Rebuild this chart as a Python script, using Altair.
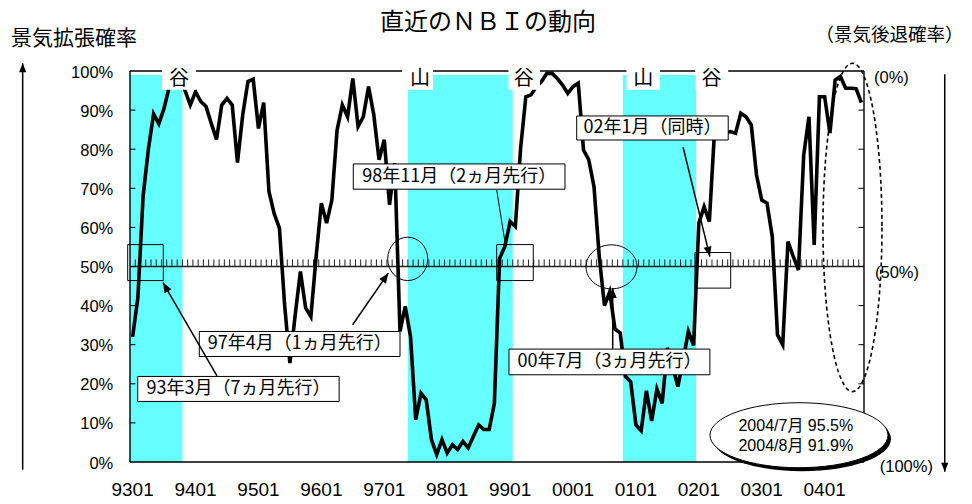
import math
import altair as alt
import pandas as pd

# ---------------- data ----------------
# NBI monthly values, 1993/01 .. 2004/08 (percent)
nbi = [32, 42, 68, 80, 89, 86.5, 90.5, 96, 99, 99, 95, 91.3,
       94.7, 92.2, 90.9, 86.6, 82.5, 91.3, 93.0, 91.3, 76.6, 88.8, 97.3, 97.9,
       85.3, 91.9, 69.2, 63.5, 59.8, 40, 25.3, 37.5, 48.7, 39.4, 37.2, 52.5,
       66.2, 61.1, 67.0, 84.9, 91.3, 88.3, 98.1, 85.8, 88.3, 96.0, 88.8, 77.3,
       82.4, 65.8, 76.4, 33.4, 39.8, 32.1, 10.8, 17.6, 15.9, 5.7, 1.9, 5.7,
       2.3, 4.4, 3.2, 5.3, 3.6, 6.6, 9.5, 8.3, 8.3, 15.0, 52.1, 55.1,
       61.5, 60.2, 80.2, 93.4, 93.9, 96.0, 97.3, 99.4, 99.4, 98.1, 96.4, 94.3,
       96.0, 96.9, 79.8, 77.3, 70.4, 52.6, 40.0, 43.5, 34.0, 33.0, 21.9, 20.5,
       9.5, 8.0, 18.2, 10.5, 18.7, 15.0, 29.2, 24.5, 19.3, 26.1, 33.4, 29.8,
       61.1, 65.3, 61.5, 84.9, 84.5, 84.1, 84.5, 84.1, 89.2, 88.3, 86.2, 73.4,
       67.0, 66.2, 57.7, 32.5, 30.0, 56.4, 52.6, 49.1, 78.5, 88.3, 55.5, 93.4,
       93.4, 84.1, 97.7, 98.6, 95.6, 95.6, 95.5, 91.9]

x_tick_labels = ["9301", "9401", "9501", "9601", "9701", "9801",
                 "9901", "0001", "0101", "0201", "0301", "0401"]
y_tick_values = [0, 10, 20, 30, 40, 50, 60, 70, 80, 90, 100]

# recession periods (month-index boundaries)
recess_start = [0, 53, 94]
recess_end = [10, 73, 108]

# business-cycle turning point labels
turn_text = ["谷", "山", "谷", "山", "谷"]
turn_center = [9.35, 55.3, 75.1, 97.9, 110.9]
turn_left = [6.1, 51.9, 72.2, 94.7, 107.8]
turn_right = [12.6, 57.8, 78.2, 101.1, 114.1]

# annotation boxes
box_text = ["93年3月（7ヵ月先行）", "97年4月（1ヵ月先行）", "98年11月（2ヵ月先行）",
            "00年7月（3ヵ月先行）", "02年1月（同時）"]
box_x0 = [1.47, 13.22, 42.59, 72.29, 85.2]
box_x1 = [39.89, 51.5, 82.97, 110.6, 114.1]
box_y0 = [15.49, 26.99, 69.77, 22.31, 82.35]
box_y1 = [21.88, 33.38, 76.23, 28.88, 88.5]

# small target rectangles
trg_x0 = [-0.44, 69.94, 107.76]
trg_x1 = [6.35, 76.92, 114.57]
trg_y0 = [46.4, 46.4, 44.47]
trg_y1 = [55.6, 55.6, 53.57]

# arrows (start -> tip)
arr_x0 = [16.59, 42.46, 92.07, 105.5, -20.47, 155.4]
arr_y0 = [22.05, 35.1, 28.95, 80.5, -2.0, 99.2]
arr_x1 = [6.29, 49.27, 92.07, 110.6, -20.47, 155.4]
arr_y1 = [45.9, 48.3, 44.47, 52.54, 102.0, -2.5]
arr_len = [10, 10, 10, 10, 9, 9]

# ---------------- geometry ----------------
NM = 140
W, H = 734, 391
PXM = W / NM
PXV = H / 100.0
CYAN = "#66FFFF"
JP = "Noto Sans CJK JP"
LAT = "Liberation Sans, Noto Sans CJK JP"

xs = alt.Scale(domain=[0, NM], nice=False, zero=False)
ys = alt.Scale(domain=[0, 100], nice=False, zero=False)


def X(f):
    return alt.X(f, type="quantitative", scale=xs, axis=None)


def Y(f):
    return alt.Y(f, type="quantitative", scale=ys, axis=None)


def ellipse_path(rx, ry):
    m = max(rx, ry)
    a, b = rx / m, ry / m
    k = 0.5523
    f = lambda v: f"{v:.4f}"
    return (f"M{f(a)},0 C{f(a)},{f(k*b)} {f(k*a)},{f(b)} 0,{f(b)} "
            f"C{f(-k*a)},{f(b)} {f(-a)},{f(k*b)} {f(-a)},0 "
            f"C{f(-a)},{f(-k*b)} {f(-k*a)},{f(-b)} 0,{f(-b)} "
            f"C{f(k*a)},{f(-b)} {f(a)},{f(-k*b)} {f(a)},0 Z")


def ellipse_size(rx, ry):
    return (2 * max(rx, ry)) ** 2


layers = []

# recession shading
recess = pd.DataFrame({"x0": recess_start, "x1": recess_end, "y0": 0, "y1": 99})
layers.append(alt.Chart(recess).mark_rect(color=CYAN).encode(
    x=X("x0"), x2="x1", y=Y("y0"), y2="y1"))

# 50% line with monthly ticks
mid = pd.DataFrame({"x0": [0], "x1": [NM], "y": [50]})
layers.append(alt.Chart(mid).mark_rule(color="#222", strokeWidth=1.6).encode(
    x=X("x0"), x2="x1", y=Y("y")))
mt = pd.DataFrame({"x": list(range(1, NM)), "y0": 50, "y1": 51.8})
layers.append(alt.Chart(mt).mark_rule(color="#222", strokeWidth=1).encode(
    x=X("x"), y=Y("y0"), y2="y1"))

# frame
frame = pd.DataFrame({"x0": [0, 0, 0, NM], "x1": [NM, NM, 0, NM],
                      "y0": [0, 100, 0, 0], "y1": [0, 100, 100, 100]})
layers.append(alt.Chart(frame).mark_rule(color="black", strokeWidth=1.4).encode(
    x=X("x0"), x2="x1", y=Y("y0"), y2="y1"))
ticks_l = pd.DataFrame({"x0": 0, "x1": 1.05, "y": y_tick_values[1:-1]})
ticks_r = pd.DataFrame({"x0": NM - 1.05, "x1": NM, "y": y_tick_values[1:-1]})
for t in (ticks_l, ticks_r):
    layers.append(alt.Chart(t).mark_rule(color="black", strokeWidth=1).encode(
        x=X("x0"), x2="x1", y=Y("y")))

# data line
line_df = pd.DataFrame({"m": [i + 0.5 for i in range(len(nbi))], "v": nbi})
layers.append(alt.Chart(line_df).mark_line(color="black", strokeWidth=3.6).encode(
    x=X("m"), y=Y("v")))

# turning point labels
turn_box = pd.DataFrame({"x0": turn_left, "x1": turn_right, "y0": 95.2, "y1": 100.4})
layers.append(alt.Chart(turn_box).mark_rect(color="white").encode(
    x=X("x0"), x2="x1", y=Y("y0"), y2="y1"))
turn_df = pd.DataFrame({"x": turn_center, "y": 98.0, "t": turn_text})
layers.append(alt.Chart(turn_df).mark_text(font=JP, fontSize=20, color="black",
                                           align="center", baseline="middle").encode(
    x=X("x"), y=Y("y"), text="t"))

# target rectangles
trg = pd.DataFrame({"x0": trg_x0, "x1": trg_x1, "y0": trg_y0, "y1": trg_y1})
layers.append(alt.Chart(trg).mark_rect(fillOpacity=0, stroke="black", strokeWidth=1).encode(
    x=X("x0"), x2="x1", y=Y("y0"), y2="y1"))

# circles around crossings
for cx, cy, rx, ry in [(52.97, 51.95, 20, 21.7), (91.84, 49.91, 25.5, 22)]:
    d = pd.DataFrame({"x": [cx], "y": [cy]})
    layers.append(alt.Chart(d).mark_point(shape=ellipse_path(rx, ry), size=ellipse_size(rx, ry),
                                          filled=False, color="black", strokeWidth=1,
                                          opacity=1).encode(x=X("x"), y=Y("y")))

# dashed ellipse around recent values
d = pd.DataFrame({"x": [137.8], "y": [60.0]})
layers.append(alt.Chart(d).mark_point(shape=ellipse_path(29.5, 164.2), size=ellipse_size(29.5, 164.2),
                                      filled=False, color="black", strokeWidth=1.6,
                                      strokeDash=[4, 3], opacity=1).encode(x=X("x"), y=Y("y")))

# 98/11 connector line
conn = pd.DataFrame({"x0": [69.94], "y0": [69.59], "x1": [71.66], "y1": [55.1]})
layers.append(alt.Chart(conn).mark_rule(color="black", strokeWidth=1).encode(
    x=X("x0"), x2="x1", y=Y("y0"), y2="y1"))

# annotation boxes
boxes = pd.DataFrame({"x0": box_x0, "x1": box_x1, "y0": box_y0, "y1": box_y1, "t": box_text})
boxes["cx"] = (boxes.x0 + boxes.x1) / 2
boxes["cy"] = (boxes.y0 + boxes.y1) / 2
layers.append(alt.Chart(boxes).mark_rect(fill="white", stroke="black", strokeWidth=1).encode(
    x=X("x0"), x2="x1", y=Y("y0"), y2="y1"))
layers.append(alt.Chart(boxes).mark_text(font=JP, fontSize=18, color="black",
                                         align="center", baseline="middle").encode(
    x=X("cx"), y=Y("cy"), text="t"))

# arrows
ang = []
for a0, b0, a1, b1 in zip(arr_x0, arr_y0, arr_x1, arr_y1):
    dxp = (a1 - a0) * PXM
    dyp = -(b1 - b0) * PXV
    ang.append(math.degrees(math.atan2(dxp, -dyp)) % 360)
arrows = pd.DataFrame({"x0": arr_x0, "y0": arr_y0, "x1": arr_x1, "y1": arr_y1,
                       "ang": ang, "len": arr_len})
layers.append(alt.Chart(arrows).mark_rule(color="black", strokeWidth=1.5).encode(
    x=X("x0"), x2="x1", y=Y("y0"), y2="y1"))
for L in sorted(set(arr_len)):
    sub = arrows[arrows["len"] == L]
    layers.append(alt.Chart(sub).mark_point(shape="M0,0L0.4,1L-0.4,1Z", size=(2 * L) ** 2,
                                            filled=True, color="black", opacity=1).encode(
        x=X("x1"), y=Y("y1"), angle=alt.Angle("ang:Q", scale=None)))

# value ellipse with shadow
ed = pd.DataFrame({"x": [127.6], "y": [6.85]})
layers.append(alt.Chart(ed).mark_point(shape=ellipse_path(89, 32.5), size=ellipse_size(89, 32.5),
                                       filled=True, color="black", opacity=1,
                                       xOffset=3, yOffset=3.5).encode(x=X("x"), y=Y("y")))
layers.append(alt.Chart(ed).mark_point(shape=ellipse_path(89, 32.5), size=ellipse_size(89, 32.5),
                                       filled=True, fill="white", stroke="black", strokeWidth=1,
                                       opacity=1).encode(x=X("x"), y=Y("y")))
vt = pd.DataFrame({"x": [127.0, 127.0], "y": [9.1, 3.99],
                   "t": [f"2004/7月 {nbi[138]}%", f"2004/8月 {nbi[139]}%"]})
layers.append(alt.Chart(vt).mark_text(font=LAT, fontSize=16, color="black",
                                      align="center", baseline="middle").encode(
    x=X("x"), y=Y("y"), text="t"))

# left axis labels
yl = pd.DataFrame({"x": -3.19, "y": [v - 0.4 for v in y_tick_values],
                   "t": [f"{v}%" for v in y_tick_values]})
layers.append(alt.Chart(yl).mark_text(font=LAT, fontSize=16.5, color="black",
                                      align="right", baseline="middle").encode(
    x=X("x"), y=Y("y"), text="t"))

# right axis labels
rl = pd.DataFrame({"x": [141.9, 142.1, 143.0], "y": [98.3, 48.4, -1.2],
                   "t": ["(0%)", "(50%)", "(100%)"]})
layers.append(alt.Chart(rl).mark_text(font=LAT, fontSize=16.5, color="black",
                                      align="left", baseline="middle").encode(
    x=X("x"), y=Y("y"), text="t"))

# x axis labels
xl = pd.DataFrame({"x": [12 * i + 0.5 for i in range(len(x_tick_labels))], "y": -8.8,
                   "t": x_tick_labels})
layers.append(alt.Chart(xl).mark_text(font=LAT, fontSize=19, color="black",
                                      align="center", baseline="alphabetic").encode(
    x=X("x"), y=Y("y"), text="t"))

# titles
tt = pd.DataFrame({"x": [68.3, -10.68, 144.86], "y": [112.3, 108.2, 109.3],
                   "t": ["直近のＮＢＩの動向", "景気拡張確率", "（景気後退確率）"],
                   "s": [24, 21, 18.5]})
layers.append(alt.Chart(tt).mark_text(font=JP, color="black", align="center",
                                      baseline="middle").encode(
    x=X("x"), y=Y("y"), text="t", size=alt.Size("s:Q", scale=None)))

chart = alt.layer(*layers).properties(
    width=W, height=H,
    autosize=alt.AutoSizeParams(type="none"),
    padding={"left": 122, "top": 63, "right": 100, "bottom": 40},
    background="white",
).configure_view(strokeWidth=0)

chart.save("out.html", embed_options={"renderer": "svg", "actions": False})
